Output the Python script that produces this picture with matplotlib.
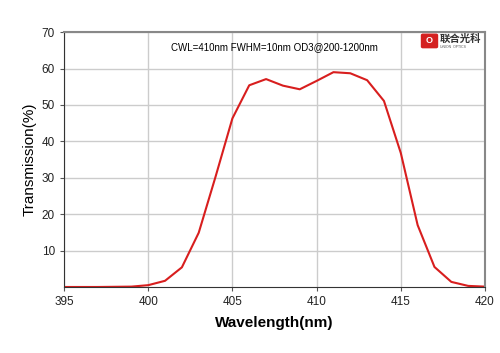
import numpy as np
import matplotlib.pyplot as plt
from matplotlib.patches import FancyBboxPatch

wavelength = [395, 396, 397, 398, 399, 400, 401, 402, 403, 404, 405, 406, 407,
              408, 409, 410, 411, 412, 413, 414, 415, 416, 417, 418, 419, 420]
transmission = [0.0, 0.0, 0.0, 0.05, 0.1, 0.5, 1.7, 5.4, 14.9, 30.3, 46.3, 55.4, 57.1,
                55.3, 54.3, 56.6, 59.0, 58.7, 56.8, 51.1, 36.8, 17.0, 5.5, 1.4, 0.3, 0.1]
xticks = [395, 400, 405, 410, 415, 420]
yticks = [10, 20, 30, 40, 50, 60, 70]

plt.rcParams['font.family'] = ['Liberation Sans', 'DejaVu Sans']
fig = plt.figure(figsize=(5, 3.53), dpi=100)
ax = fig.add_axes([0.128, 0.187, 0.842, 0.722])

ax.plot(wavelength, transmission, color='#d81e1e', lw=1.5)
ax.set_xlim(395, 420)
ax.set_ylim(0, 70)
ax.set_xticks(xticks)
ax.set_yticks(yticks)
ax.grid(True, color='#cccccc', lw=1)
ax.tick_params(labelsize=8.5, length=3, color='#555555', labelcolor='#222222')
for s in ['left', 'bottom']:
    ax.spines[s].set_color('#333333')
for s in ['top', 'right']:
    ax.spines[s].set_color('#888888')
ax.spines['top'].set_linewidth(1.5)
ax.spines['right'].set_linewidth(1.5)

ax.set_xlabel('Wavelength(nm)', fontsize=11, fontweight='bold', labelpad=6)
ax.set_ylabel('Transmission(%)', fontsize=11, labelpad=4)

ax.text(0.5, 0.94, 'CWL=410nm FWHM=10nm OD3@200-1200nm', transform=ax.transAxes,
        ha='center', va='center', fontsize=7)

# logo
logo = FancyBboxPatch((0.846, 0.868), 0.026, 0.032, boxstyle='round,pad=0.003',
                      transform=fig.transFigure, color='#d42020', zorder=5)
fig.patches.append(logo)
fig.text(0.859, 0.884, 'O', color='white', fontsize=6.5, fontweight='bold',
         ha='center', va='center', zorder=6)
fig.text(0.88, 0.89, '联合光科', family=['Noto Sans CJK SC', 'DejaVu Sans'],
         fontsize=7.5, fontweight='bold', color='#333333', va='center')
fig.text(0.88, 0.866, 'UNION  OPTICS', fontsize=2.5, color='#555555', va='center')

fig.savefig('out.png', dpi=100)
